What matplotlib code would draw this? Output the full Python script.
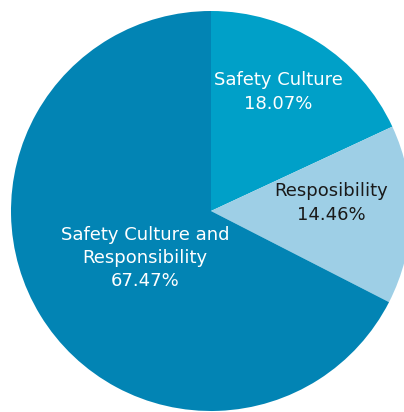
import matplotlib
matplotlib.use('Agg')
import matplotlib.pyplot as plt

# slice data, drawn clockwise from 12 o'clock
labels = ['Safety Culture', 'Resposibility', 'Safety Culture and\nResponsibility']
values = [18.07, 14.46, 67.47]
colors = ['#00a0c8', '#9ecfe6', '#0284b4']
text_colors = ['white', '#1a1a1a', 'white']

# label anchor points (pixels from top-left)
label_xy = [(278, 92), (331, 203), (145, 258)]

W, H = 404, 412
fig = plt.figure(figsize=(W / 100, H / 100), dpi=100)
ax = fig.add_axes([0, 0, 1, 1])

ax.pie(values, colors=colors, startangle=90, counterclock=False,
       center=(211, H - 211), radius=200,
       wedgeprops=dict(linewidth=0))

ax.set_xlim(0, W)
ax.set_ylim(0, H)
ax.set_aspect('auto')
ax.axis('off')

for lab, v, c, (px, py) in zip(labels, values, text_colors, label_xy):
    ax.text(px, H - py, lab + '\n' + '%.2f%%' % v, color=c,
            ha='center', va='center', fontsize=13, linespacing=1.38,
            family='DejaVu Sans')

plt.savefig('out.png', dpi=100)
